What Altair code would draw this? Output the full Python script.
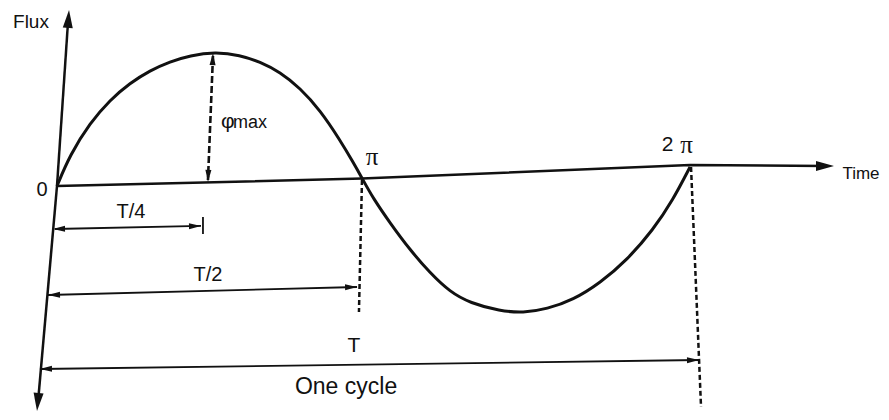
import altair as alt
import pandas as pd

# ---- values (t = fraction of one cycle, f = flux / phi_max) ----
curve_t = [0, 0.0205, 0.0521, 0.0837, 0.1153, 0.1469, 0.1785, 0.2101, 0.2496, 0.2891,
           0.3207, 0.3523, 0.3839, 0.4155, 0.4471, 0.4676, 0.4818, 0.4992, 0.5261,
           0.5577, 0.5893, 0.6209, 0.6524, 0.6998, 0.7362, 0.7741, 0.8152, 0.858,
           0.9005, 0.9415, 0.973, 1.0]
curve_f = [-0.023, 0.214, 0.458, 0.634, 0.763, 0.859, 0.927, 0.973, 1.0, 0.977,
           0.924, 0.847, 0.725, 0.557, 0.328, 0.160, 0.038, -0.115, -0.305,
           -0.511, -0.687, -0.832, -0.916, -0.977, -0.992, -0.962, -0.893, -0.763,
           -0.588, -0.359, -0.130, 0.122]

time_axis_t = [0, 0.4818, 1.0, 1.2133]
time_axis_f = [-0.023, 0.034, 0.137, 0.130]

# vertical (flux) axis segments
flux_axis_t1 = [-0.030, 0.0]
flux_axis_f1 = [-1.672, -0.023]
flux_axis_t2 = [0.0, 0.0174]
flux_axis_f2 = [-0.023, 1.229]

# dimension lines: T/4, tick, T/2, T
dim_t1 = [-0.0032, 0.2306, -0.0142, -0.0269]
dim_f1 = [-0.351, -0.260, -0.855, -1.420]
dim_t2 = [0.2275, 0.2306, 0.474, 1.0142]
dim_f2 = [-0.328, -0.389, -0.794, -1.351]

# dashed lines: phi_max / pi and 2pi
phi_dash_t1 = [0.2464]
phi_dash_f1 = [0.969]
phi_dash_t2 = [0.2385]
phi_dash_f2 = [0.023]

dash_t1 = [0.4818, 1.0016]
dash_f1 = [0.023, 0.122]
dash_t2 = [0.477, 1.0174]
dash_f2 = [-0.985, -1.710]

# arrowheads (tip positions, pointing angle in degrees)
big_head_t = [0.019, -0.0316, 1.2275]
big_head_f = [1.321, -1.740, 0.130]
big_head_angle = [274, 95, 0]

small_head_t = [0.2464, 0.2385, -0.0063, 0.2275, -0.0142, 0.474, -0.0269, 1.0142]
small_head_f = [0.992, 0.008, -0.351, -0.328, -0.855, -0.794, -1.420, -1.351]
small_head_angle = [272, 92, 179, 359, 178.5, 358.5, 179, 359]

# labels
label_text = ["Flux", "0", "Time", "T/4", "T/2", "T", "One cycle"]
label_t = [-0.0411, -0.0237, 1.2701, 0.1169, 0.2385, 0.4692, 0.4566]
label_f = [1.229, -0.053, 0.069, -0.221, -0.702, -1.244, -1.557]
label_size = [19, 20, 17, 20, 20, 21, 23]

pi_text = ["π", "2", "π"]
pi_t = [0.4976, 0.9645, 0.9945]
pi_f = [0.198, 0.290, 0.290]
pi_font = ["Liberation Serif", "Liberation Sans", "Liberation Serif"]

phi_text = ["φ", "max"]
phi_t = [0.2591, 0.2780]
phi_f = [0.420, 0.420]
phi_size = [21, 18]

INK = "#111111"
X = alt.Scale(domain=[-0.0774, 1.3017], nice=False, zero=False)
Y = alt.Scale(domain=[-1.7481, 1.3359], nice=False, zero=False)


def xy():
    return dict(x=alt.X("t:Q", scale=X, axis=None),
                y=alt.Y("f:Q", scale=Y, axis=None))


def segs(t1, f1, t2, f2):
    return pd.DataFrame({"t": t1, "f": f1, "t2": t2, "f2": f2})


curve = alt.Chart(pd.DataFrame({"t": curve_t, "f": curve_f, "i": range(len(curve_t))})).mark_line(
    interpolate="basis", strokeWidth=3, color=INK
).encode(**xy(), order="i:Q")

time_axis = alt.Chart(pd.DataFrame({"t": time_axis_t, "f": time_axis_f, "i": range(len(time_axis_t))})).mark_line(
    strokeWidth=2.5, color=INK
).encode(**xy(), order="i:Q")

flux_axis = alt.Chart(segs(flux_axis_t1, flux_axis_f1, flux_axis_t2, flux_axis_f2)).mark_rule(
    strokeWidth=2.5, color=INK
).encode(**xy(), x2="t2:Q", y2="f2:Q")

dims = alt.Chart(segs(dim_t1, dim_f1, dim_t2, dim_f2)).mark_rule(
    strokeWidth=1.8, color=INK
).encode(**xy(), x2="t2:Q", y2="f2:Q")

phi_dashed = alt.Chart(segs(phi_dash_t1, phi_dash_f1, phi_dash_t2, phi_dash_f2)).mark_rule(
    strokeWidth=2.6, color=INK, strokeDash=[7, 3]
).encode(**xy(), x2="t2:Q", y2="f2:Q")

dashed = alt.Chart(segs(dash_t1, dash_f1, dash_t2, dash_f2)).mark_rule(
    strokeWidth=2.5, color=INK, strokeDash=[5, 3]
).encode(**xy(), x2="t2:Q", y2="f2:Q")

big_heads = alt.Chart(pd.DataFrame({"t": big_head_t, "f": big_head_f, "a": big_head_angle})).mark_point(
    shape="M0,0L-3.6,-1L-3.6,1Z", size=100, filled=True, opacity=1, color=INK, strokeWidth=0
).encode(**xy(), angle=alt.Angle("a:Q", scale=None))

small_heads = alt.Chart(pd.DataFrame({"t": small_head_t, "f": small_head_f, "a": small_head_angle})).mark_point(
    shape="M0,0L-4,-1L-4,1Z", size=36, filled=True, opacity=1, color=INK, strokeWidth=0
).encode(**xy(), angle=alt.Angle("a:Q", scale=None))

labels = alt.Chart(pd.DataFrame({"t": label_t, "f": label_f, "s": label_size, "txt": label_text})).mark_text(
    font="Liberation Sans", color=INK, align="center", baseline="middle"
).encode(**xy(), text="txt:N", size=alt.Size("s:Q", scale=None))

pi_df = pd.DataFrame({"t": pi_t, "f": pi_f, "txt": pi_text, "fn": pi_font})
pi_serif = alt.Chart(pi_df[pi_df.fn == "Liberation Serif"]).mark_text(
    font="Liberation Serif", fontSize=25, color=INK, align="center", baseline="middle"
).encode(**xy(), text="txt:N")
pi_sans = alt.Chart(pi_df[pi_df.fn == "Liberation Sans"]).mark_text(
    font="Liberation Sans", fontSize=21, color=INK, align="center", baseline="middle"
).encode(**xy(), text="txt:N")

phi_label = alt.Chart(pd.DataFrame({"t": phi_t, "f": phi_f, "s": phi_size, "txt": phi_text})).mark_text(
    font="Liberation Sans", color=INK, align="left", baseline="alphabetic"
).encode(**xy(), text="txt:N", size=alt.Size("s:Q", scale=None))

chart = alt.layer(
    time_axis, flux_axis, dims, phi_dashed, dashed, curve, big_heads, small_heads,
    labels, pi_serif, pi_sans, phi_label
).properties(
    width=873, height=404, padding=0, autosize=alt.AutoSizeParams(type="none"),
    background="white"
).configure_view(stroke=None)

chart.save("out.html", embed_options={"renderer": "svg", "actions": False})
